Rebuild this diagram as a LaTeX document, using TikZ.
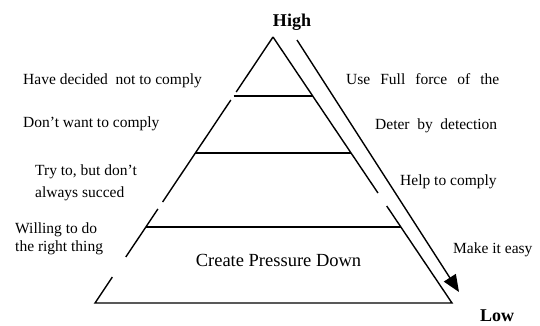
\documentclass[tikz,border=0pt]{standalone}
\usepackage{fontspec}
\setmainfont{Liberation Serif}
\usetikzlibrary{arrows.meta,calc}
\begin{document}
\begin{tikzpicture}[x=1pt,y=-1pt,
  edge/.style={line width=1.4pt},
  level/.style={line width=1.8pt},
  lbl/.style={anchor=base west,inner sep=0pt,font=\fontsize{15.5}{17}\selectfont},
  hdr/.style={anchor=base,inner sep=0pt,font=\fontsize{18}{20}\selectfont\bfseries}]
\useasboundingbox (0,0) rectangle (540,325);
\coordinate (apex) at (273,37);
\coordinate (bl) at (95,303);
\coordinate (br) at (452,303);
% left edge gaps
\coordinate (lg1a) at ($(apex)!0.2068!(bl)$);
\coordinate (lg1b) at ($(apex)!0.2368!(bl)$);
\coordinate (lg2a) at ($(apex)!0.6203!(bl)$);
\coordinate (lg2b) at ($(apex)!0.6466!(bl)$);
\coordinate (lg3a) at ($(apex)!0.8271!(bl)$);
\coordinate (lg3b) at ($(apex)!0.9023!(bl)$);
% right edge gap
\coordinate (rg1a) at ($(apex)!0.5865!(br)$);
\coordinate (rg1b) at ($(apex)!0.6353!(br)$);
% levels
\coordinate (l1) at ($(apex)!0.2218!(bl)$);
\coordinate (r1) at ($(apex)!0.2218!(br)$);
\coordinate (l2) at ($(apex)!0.4361!(bl)$);
\coordinate (r2) at ($(apex)!0.4361!(br)$);
\coordinate (l3) at ($(apex)!0.7143!(bl)$);
\coordinate (r3) at ($(apex)!0.7143!(br)$);
% triangle
\draw[edge] (apex) -- (lg1a);
\draw[edge] (lg1b) -- (lg2a);
\draw[edge] (lg2b) -- (lg3a);
\draw[edge,line join=miter] (lg3b) -- (bl) -- (br) -- (rg1b);
\draw[edge,line join=miter] (rg1a) -- (apex);
\draw[level] (l1) -- (r1);
\draw[level] (l2) -- (r2);
\draw[level] (l3) -- (r3);
% arrow
\coordinate (as) at (297,40);
\coordinate (ae) at (459,292);
\draw[edge,-{Triangle[length=17pt,width=14pt]}] (as) -- (ae);
% texts
\node[hdr] (high) at (292,26) {High};
\node[hdr] (low) at (497,321) {Low};
\node[lbl] (t1) at (23,84) {Have decided\ \ not to comply};
\node[lbl] (t2) at (23,127) {Don’t want to comply};
\node[lbl] (t3) at (35,175) {Try to, but don’t};
\node[lbl] (t4) at (35,197) {always succed};
\node[lbl] (t5) at (15,233) {Willing to do};
\node[lbl] (t6) at (15,251) {the right thing};
\node[anchor=base,inner sep=0pt,font=\fontsize{18.5}{20}\selectfont] (cpd) at (278.5,266) {Create Pressure Down};
\node[lbl] (u1) at (346,84) {\makebox[153pt][s]{Use Full force of the}};
\node[lbl] (u2) at (375,129) {\makebox[122pt][s]{Deter by detection}};
\node[lbl] (u3) at (400,185) {Help to comply};
\node[lbl] (u4) at (453,253) {Make it easy};
\end{tikzpicture}
\end{document}
